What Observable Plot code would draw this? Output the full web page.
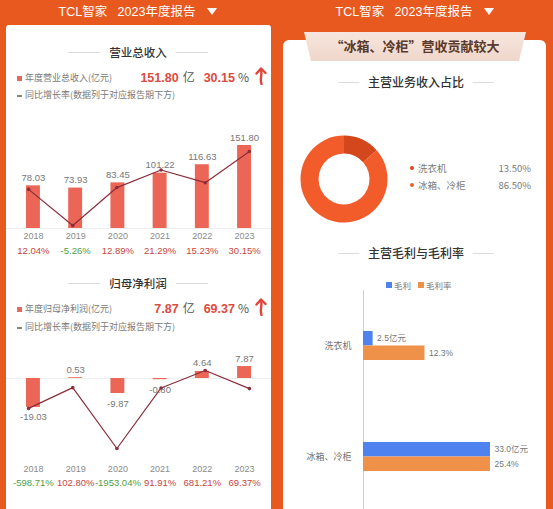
<!DOCTYPE html>
<html><head><meta charset="utf-8">
<script src="https://cdn.jsdelivr.net/npm/d3@7"></script>
<script src="https://cdn.jsdelivr.net/npm/@observablehq/plot@0.6"></script>
<style>
html,body{margin:0;padding:0}
body{width:553px;height:509px;overflow:hidden;position:relative;background:#E8591F;font-family:"Liberation Sans","Noto Sans CJK SC",sans-serif;}
.a{position:absolute}
.hdr{top:3px;width:276px;text-align:center;color:#fff;font-size:12.5px;line-height:18px;font-family:"Liberation Sans","Noto Sans CJK SC",sans-serif;white-space:pre}
.tri{display:inline-block;width:0;height:0;border-left:5px solid transparent;border-right:5px solid transparent;border-top:7px solid #fff;vertical-align:1px;margin-left:12px}
.panel{background:#fff}
.title{font-family:"Noto Sans CJK SC",sans-serif;font-size:11.5px;color:#333;font-weight:500;text-align:center;line-height:16px;white-space:nowrap}
.hl{height:1px;background:#dcdcdc}
.leg{font-family:"Noto Sans CJK SC",sans-serif;font-size:9px;color:#7a7a7a;line-height:12px;white-space:nowrap}
.big{white-space:nowrap;text-align:right;line-height:18px}
.num{font-weight:bold;font-size:12.5px;color:#DC4B3F}
.unit{font-size:12px;color:#555;font-family:"Noto Sans CJK SC",sans-serif}
.arrow{display:inline-block;margin-left:6px;vertical-align:-3px}
.chart{position:absolute}
.chart svg{display:block}
</style></head><body>

<div class="a hdr" style="left:0">TCL智家   2023年度报告<span class="tri"></span></div>
<div class="a hdr" style="left:277px">TCL智家   2023年度报告<span class="tri"></span></div>

<div class="a panel" style="left:6px;top:25px;width:265px;height:500px;border-radius:3px"></div>
<div class="a panel" style="left:283px;top:40px;width:263px;height:480px;border-radius:6px"></div>

<!-- left: revenue -->
<div class="a hl" style="left:68px;top:52px;width:32px"></div>
<div class="a hl" style="left:176px;top:52px;width:32px"></div>
<div class="a title" style="left:100px;top:44px;width:76px">营业总收入</div>
<div class="a" style="left:17px;top:76px;width:5px;height:5px;background:#E8685A"></div>
<div class="a leg" style="left:25px;top:72px">年度营业总收入(亿元)</div>
<div class="a" style="left:17px;top:95px;width:5px;height:1.5px;background:#7d8a7d"></div>
<div class="a leg" style="left:25px;top:89px">同比增长率(数据列于对应报告期下方)</div>
<div class="a big" id="revBig" style="left:110px;top:67px;width:157px"></div>
<div class="chart" id="revBars" style="left:6px;top:118px"></div>
<div class="chart" id="revLine" style="left:6px;top:118px"></div>

<!-- left: profit -->
<div class="a hl" style="left:68px;top:283px;width:32px"></div>
<div class="a hl" style="left:176px;top:283px;width:32px"></div>
<div class="a title" style="left:100px;top:275px;width:76px">归母净利润</div>
<div class="a" style="left:17px;top:307px;width:5px;height:5px;background:#E8685A"></div>
<div class="a leg" style="left:25px;top:303px">年度归母净利润(亿元)</div>
<div class="a" style="left:17px;top:327px;width:5px;height:1.5px;background:#7d8a7d"></div>
<div class="a leg" style="left:25px;top:321px">同比增长率(数据列于对应报告期下方)</div>
<div class="a big" id="profBig" style="left:110px;top:298px;width:157px"></div>
<div class="chart" id="profBars" style="left:6px;top:355px"></div>
<div class="chart" id="profLine" style="left:6px;top:355px"></div>

<!-- right -->
<div class="a" style="left:300px;top:32px;width:230px;height:29px;background:linear-gradient(#F7E6DE,#EFD6CA);clip-path:polygon(4px 0,226px 0,219px 29px,11px 29px)"></div>
<div class="a" style="left:300px;top:32px;width:230px;line-height:28px;text-align:center;font-family:'Noto Sans CJK SC',sans-serif;font-weight:bold;font-size:13px;color:#5A3A2C">“冰箱、冷柜”营收贡献较大</div>

<div class="a hl" style="left:338px;top:82px;width:21px"></div>
<div class="a hl" style="left:473px;top:82px;width:21px"></div>
<div class="a title" style="left:359px;top:74px;width:114px;font-size:12px">主营业务收入占比</div>
<div class="chart" id="donut" style="left:294px;top:129px"></div>
<div id="donutLegend"></div>

<div class="a hl" style="left:338px;top:253px;width:21px"></div>
<div class="a hl" style="left:473px;top:253px;width:21px"></div>
<div class="a title" style="left:359px;top:245px;width:114px;font-size:12px">主营毛利与毛利率</div>
<div id="gmLegend"></div>
<div class="chart" id="gm" style="left:283px;top:290px"></div>

<script>
// ---------- data ----------
const years = ["2018", "2019", "2020", "2021", "2022", "2023"];
const revenue = [78.03, 73.93, 83.45, 101.22, 116.63, 151.80];
const revenueGrowth = [12.04, -5.26, 12.89, 21.29, 15.23, 30.15];
const profit = [-19.03, 0.53, -9.87, -0.80, 4.64, 7.87];
const profitGrowth = [-598.71, 102.80, -1953.04, 91.91, 681.21, 69.37];
const segments = ["洗衣机", "冰箱、冷柜"];
const segmentShare = [13.50, 86.50];
const gmSeries = ["毛利", "毛利率"];
const grossProfit = [2.5, 33.0];
const grossMargin = [12.3, 25.4];

// ---------- styling ----------
const BAR = "#EC6658", LINE = "#8C2D3A", RED = "#C8453E", GREEN = "#4E9E48";
const fontStyle = {fontFamily: "Liberation Sans, Noto Sans CJK SC, sans-serif", fontSize: "9.5px", background: "transparent", overflow: "visible"};

const arrowSvg = `<svg class="arrow" width="12" height="18" viewBox="0 0 12 18"><path d="M6.5 17 C4.5 12 7.5 8 6 2.5" fill="none" stroke="#E0453A" stroke-width="2.4" stroke-linecap="round"/><path d="M1.5 6.5 L6 1.5 L10.5 6" fill="none" stroke="#E0453A" stroke-width="2.4" stroke-linecap="round" stroke-linejoin="round"/></svg>`;
function bigNumbers(el, v, g) {
  document.getElementById(el).innerHTML =
    `<span class="num">${v.toFixed(2)}</span><span class="unit" style="margin-left:4px">亿</span>` +
    `<span class="num" style="margin-left:9px">${g.toFixed(2)}</span><span class="unit" style="margin-left:3px">%</span>` +
    arrowSvg;
}
bigNumbers("revBig", revenue[5], revenueGrowth[5]);
bigNumbers("profBig", profit[5], profitGrowth[5]);

const xBand = {domain: years, paddingInner: 0.67, paddingOuter: 0.473, round: false, axis: null};

function yearCharts(barsEl, lineEl, values, growth, yDom, yRange, gDom, gRange, mb, yearDy, pctDy) {
  const data = years.map((y, i) => ({year: y, value: values[i], growth: growth[i]}));
  const bars = Plot.plot({
    width: 265, height: 145, marginLeft: 0, marginRight: 0, marginTop: 0, marginBottom: mb,
    x: xBand,
    y: {domain: yDom, range: yRange, axis: null},
    style: fontStyle,
    marks: [
      Plot.ruleY([0], {stroke: "#efefef"}),
      Plot.barY(data, {x: "year", y: "value", fill: BAR}),
      Plot.text(data.filter(d => d.value >= 0), {x: "year", y: "value", text: d => d.value.toFixed(2), dy: -8, fill: "#777"}),
      Plot.text(data.filter(d => d.value < 0), {x: "year", y: "value", text: d => d.value.toFixed(2), dy: 10, fill: "#777"}),
      Plot.text(data, {x: "year", frameAnchor: "bottom", dy: yearDy, text: "year", fill: "#8a8a8a", fontSize: 9}),
      Plot.text(data, {x: "year", frameAnchor: "bottom", dy: pctDy, text: d => d.growth.toFixed(2) + "%",
        fill: d => d.growth < 0 ? GREEN : RED, fontSize: 9.5})
    ]
  });
  document.getElementById(barsEl).append(bars);
  const line = Plot.plot({
    width: 265, height: 145, marginLeft: 0, marginRight: 0, marginTop: 0, marginBottom: mb,
    x: xBand,
    y: {domain: gDom, range: gRange, axis: null},
    style: fontStyle,
    marks: [
      Plot.line(data, {x: "year", y: "growth", stroke: LINE, strokeWidth: 1.2}),
      Plot.dot(data, {x: "year", y: "growth", r: 1.8, fill: LINE})
    ]
  });
  document.getElementById(lineEl).append(line);
}

yearCharts("revBars", "revLine", revenue, revenueGrowth, [0, 151.8], [110, 27], [-5.26, 30.15], [107, 33], 33, 8, 23);
yearCharts("profBars", "profLine", profit, profitGrowth, [-20, 10], [53.4, 7.8], [-1953.04, 681.21], [93, 15], 37, 8, 22);

// ---------- donut ----------
const shareData = segments.map((s, i) => ({name: s, share: segmentShare[i]}));
const donutColor = Plot.scale({color: {domain: segments, range: ["#D4461C", "#F25B2A"]}});
function donutMark(index, scales, values, dims) {
  const g = d3.create("svg:g").attr("transform", `translate(${dims.width / 2},${dims.height / 2})`);
  const pie = d3.pie().sort(null).value(d => d.share);
  const arc = d3.arc().innerRadius(25.5).outerRadius(43.5);
  g.selectAll("path").data(pie(shareData)).join("path")
    .attr("d", arc).attr("fill", d => donutColor.apply(d.data.name));
  return g.node();
}
document.getElementById("donut").append(Plot.plot({
  width: 100, height: 100, margin: 0, style: fontStyle, marks: [donutMark]
}));

const dl = document.getElementById("donutLegend");
shareData.forEach((d, i) => {
  const y = 168 + i * 17;
  dl.insertAdjacentHTML("beforeend",
    `<div class="a" style="left:410px;top:${y - 2}px;width:4px;height:4px;border-radius:2px;background:${donutColor.apply(d.name)}"></div>` +
    `<div class="a leg" style="left:418px;top:${y - 6}px;font-size:9.5px">${d.name}</div>` +
    `<div class="a leg" style="left:470px;width:61px;text-align:right;top:${y - 6}px;font-size:9.5px">${d.share.toFixed(2)}%</div>`);
});

// ---------- gross profit / margin ----------
const gmColor = Plot.scale({color: {domain: gmSeries, range: ["#4E82EE", "#F0914A"]}});
const gl = document.getElementById("gmLegend");
gmSeries.forEach((s, i) => {
  const x = 386 + i * 32;
  gl.insertAdjacentHTML("beforeend",
    `<div class="a" style="left:${x}px;top:282px;width:6px;height:6px;background:${gmColor.apply(s)}"></div>` +
    `<div class="a leg" style="left:${x + 8}px;top:279px;font-size:8.5px">${s}</div>`);
});

const gmData = [];
segments.forEach((c, i) => {
  gmData.push({cat: c, series: "毛利", value: grossProfit[i], label: grossProfit[i].toFixed(1) + "亿元"});
  gmData.push({cat: c, series: "毛利率", value: grossMargin[i], label: grossMargin[i].toFixed(1) + "%"});
});
const seriesMax = {"毛利": d3.max(grossProfit), "毛利率": d3.max(grossMargin)};
const rel = d => d.value / seriesMax[d.series];

document.getElementById("gm").append(Plot.plot({
  width: 263, height: 222, marginLeft: 80, marginRight: 56, marginTop: 0, marginBottom: 0,
  x: {domain: [0, 1], axis: null},
  y: {domain: gmSeries, axis: null, paddingInner: 0, paddingOuter: 2.83, round: false},
  fy: {domain: segments, axis: "left", label: null, tickSize: 0, tickPadding: 12, padding: 0, round: false},
  color: {domain: gmSeries, range: ["#4E82EE", "#F0914A"]},
  style: {...fontStyle, fontSize: "9px", color: "#6f6f6f"},
  marks: [
    Plot.ruleX([0], {stroke: "#cfcfcf"}),
    Plot.barX(gmData, {fy: "cat", y: "series", x: rel, fill: "series"}),
    Plot.text(gmData, {fy: "cat", y: "series", x: rel, text: "label", textAnchor: "start", dx: 4, fill: "#777", fontSize: 8.5})
  ]
}));
</script>
</body></html>
